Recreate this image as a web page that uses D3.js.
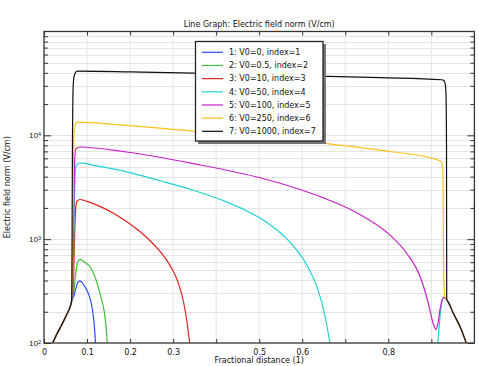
<!DOCTYPE html>
<html><head><meta charset="utf-8">
<script src="https://cdn.jsdelivr.net/npm/d3@7"></script>
<style>
body{margin:0;background:#fff;}
svg{display:block;font-family:"DejaVu Sans",sans-serif;}
</style></head><body>
<svg id="chart" width="479" height="366"></svg>
<script>
// ---- data ----
const titleText = "Line Graph: Electric field norm (V/cm)";
const xLabelText = "Fractional distance (1)";
const yLabelText = "Electric field norm (V/cm)";
const xTickValues = [0,0.1,0.2,0.3,0.4,0.5,0.6,0.7,0.8,0.9];
const xTickLabels = ["0","0.1","0.2","0.3","","0.5","0.6","","0.8",""];
const yMajorTicks = [100,1000,10000];
const yMajorExp = ["2","3","4"];
const yMinorTicks = [200,300,400,500,600,700,800,900,2000,3000,4000,5000,6000,7000,8000,9000,20000,30000,40000,50000,60000,70000,80000,90000];
const seriesNames = ["1: V0=0, index=1","2: V0=0.5, index=2","3: V0=10, index=3","4: V0=50, index=4","5: V0=100, index=5","6: V0=250, index=6","7: V0=1000, index=7"];
const seriesColors = ["#2a4cf5","#3cbf3c","#e01f1f","#1fd2d2","#c622c6","#ffbf1a","#111111"];

const leftTail = [[0.020,100],[0.030,122],[0.041,149],[0.052,185],[0.062,232],[0.064,250]];
const rightTail = [[0.9357,262],[0.940,245],[0.951,193],[0.9666,144],[0.981,100]];

const s1 = [[0.070,290],[0.075,345],[0.079,385],[0.0836,397],[0.092,365],[0.103,300],[0.110,240],[0.1146,182],[0.118,128],[0.1195,100]];
const s2 = [[0.070,330],[0.074,480],[0.078,600],[0.0836,638],[0.095,600],[0.107,542],[0.116,460],[0.124,370],[0.132,280],[0.138,223],[0.143,160],[0.147,100]];
const s3 = [[0.068,350],[0.070,700],[0.072,1400],[0.074,2050],[0.077,2330],[0.0836,2410],[0.100,2310],[0.130,2070],[0.160,1790],[0.190,1500],[0.220,1210],[0.246,970],[0.265,800],[0.285,628],[0.300,493],[0.312,379],[0.324,251],[0.332,162],[0.3385,100]];
const s4a = [[0.067,350],[0.069,900],[0.071,2500],[0.0725,4400],[0.075,5150],[0.0836,5420],[0.120,5100],[0.192,4440],[0.270,3650],[0.347,2960],[0.424,2285],[0.470,1880],[0.500,1615],[0.530,1330],[0.560,1045],[0.585,806],[0.610,570],[0.634,347],[0.649,214],[0.658,141],[0.6645,100]];
const s4b = [[0.9147,100],[0.918,140],[0.921,195],[0.924,241],[0.929,275]];
const s5 = [[0.066,350],[0.068,900],[0.070,3000],[0.0715,6000],[0.074,7400],[0.0836,7720],[0.192,6910],[0.347,5340],[0.502,3900],[0.571,3235],[0.649,2500],[0.7265,1800],[0.804,1093],[0.843,728],[0.874,434],[0.893,241],[0.904,155],[0.911,135],[0.916,160],[0.920,208],[0.925,260],[0.929,275]];
const s6 = [[0.065,350],[0.067,1500],[0.068,5000],[0.069,9000],[0.071,12000],[0.074,13100],[0.0797,13430],[0.192,12480],[0.347,10990],[0.500,9600],[0.657,8320],[0.812,6910],[0.905,5970],[0.920,5660],[0.9245,5400],[0.9265,4500],[0.9275,2500],[0.928,1000],[0.929,400],[0.931,290]];
const s7 = [[0.0648,400],[0.0655,2000],[0.0662,10000],[0.0672,25000],[0.069,35000],[0.072,39500],[0.077,41500],[0.200,40800],[0.347,39700],[0.550,38000],[0.781,35900],[0.924,34300],[0.928,34000],[0.932,31500],[0.934,25000],[0.9352,8000]];

// series segments (each is a list of polylines)
const seriesData = [
  [leftTail.concat(s1)],
  [leftTail.concat(s2)],
  [leftTail.concat(s3)],
  [leftTail.concat(s4a), s4b.concat(rightTail)],
  [leftTail.concat(s5, rightTail)],
  [leftTail.concat(s6, rightTail)],
  [leftTail.concat(s7, rightTail)]
];

// ---- layout ----
const svg = d3.select("#chart");
const L = 44, R = 474.4, T = 31.5, B = 343;
const x = d3.scaleLinear().domain([0,1]).range([L,R]);
const y = d3.scaleLog().domain([100,100000]).range([B,T]);

svg.append("defs").append("clipPath").attr("id","clip")
  .append("rect").attr("x",L).attr("y",T).attr("width",R-L).attr("height",B-T);

// grid
const grid = svg.append("g");
grid.selectAll(".gx").data(xTickValues.filter(v=>v>0)).join("line")
  .attr("x1",d=>x(d)).attr("x2",d=>x(d)).attr("y1",T).attr("y2",B)
  .attr("stroke","#e4e4e4").attr("stroke-width",1);
grid.selectAll(".gy").data(yMajorTicks.concat(yMinorTicks).filter(v=>v>100)).join("line")
  .attr("y1",d=>Math.round(y(d))+0.5).attr("y2",d=>Math.round(y(d))+0.5).attr("x1",L).attr("x2",R)
  .attr("stroke","#e4e4e4").attr("stroke-width",1);

// lines
const line = d3.line().x(d=>x(d[0])).y(d=>y(d[1])).curve(d3.curveMonotoneX);
const lines = svg.append("g").attr("clip-path","url(#clip)");
seriesData.forEach((segs,i)=>{
  segs.forEach(seg=>{
    lines.append("path").attr("d",line(seg)).attr("fill","none")
      .attr("stroke",seriesColors[i]).attr("stroke-width",1.2).attr("stroke-linejoin","round");
  });
});

// axes
const fs = 8;
const xb = svg.append("g").attr("transform",`translate(0,${B})`)
  .call(d3.axisBottom(x).tickValues(xTickValues).tickSizeInner(-4).tickSizeOuter(0).tickPadding(6)
    .tickFormat((d,i)=>xTickLabels[i]));
const xt = svg.append("g").attr("transform",`translate(0,${T})`)
  .call(d3.axisTop(x).tickValues(xTickValues).tickSizeInner(-4).tickSizeOuter(0).tickFormat(""));
const yl = svg.append("g").attr("transform",`translate(${L},0)`)
  .call(d3.axisLeft(y).tickValues(yMajorTicks).tickSizeInner(-7).tickSizeOuter(0).tickPadding(3).tickFormat(""));
const ylm = svg.append("g").attr("transform",`translate(${L},0)`)
  .call(d3.axisLeft(y).tickValues(yMinorTicks).tickSizeInner(-4).tickSizeOuter(0).tickFormat(""));
const yr = svg.append("g").attr("transform",`translate(${R},0)`)
  .call(d3.axisRight(y).tickValues(yMajorTicks).tickSizeInner(-7).tickSizeOuter(0).tickFormat(""));
const yrm = svg.append("g").attr("transform",`translate(${R},0)`)
  .call(d3.axisRight(y).tickValues(yMinorTicks).tickSizeInner(-4).tickSizeOuter(0).tickFormat(""));
[xb,xt,yl,ylm,yr,yrm].forEach(g=>{
  g.select(".domain").remove();
  g.selectAll("line").attr("stroke","#333");
  g.selectAll("text").attr("font-family","DejaVu Sans").attr("font-size",fs).attr("fill","#111");
});
// y major labels with superscripts
yl.selectAll(".tick").each(function(d,i){
  const t = d3.select(this).append("text").attr("x",-3).attr("dy","0.32em")
    .attr("text-anchor","end").attr("font-size",fs).attr("fill","#111");
  t.append("tspan").text("10");
  t.append("tspan").attr("dy","-0.45em").attr("font-size",5.5).text(yMajorExp[i]);
});

// frame
svg.append("rect").attr("x",L).attr("y",T).attr("width",R-L).attr("height",B-T)
  .attr("fill","none").attr("stroke","#333").attr("stroke-width",1.3);

// title and labels
svg.append("text").attr("x",(L+R)/2).attr("y",27).attr("text-anchor","middle")
  .attr("font-size",8).attr("fill","#111").text(titleText);
svg.append("text").attr("x",(L+R)/2).attr("y",363).attr("text-anchor","middle")
  .attr("font-size",8).attr("fill","#111").text(xLabelText);
svg.append("text").attr("transform",`translate(10,${(T+B)/2}) rotate(-90)`).attr("text-anchor","middle")
  .attr("font-size",8).attr("fill","#111").text(yLabelText);

// legend
const lg = svg.append("g");
lg.append("rect").attr("x",198).attr("y",44).attr("width",128).attr("height",100).attr("fill","#777");
lg.append("rect").attr("x",195.5).attr("y",41.5).attr("width",127.5).attr("height",99.5)
  .attr("fill","#fff").attr("stroke","#222").attr("stroke-width",1.3);
seriesNames.forEach((n,i)=>{
  const yy = 52.3 + i*13.17;
  lg.append("line").attr("x1",202).attr("x2",223).attr("y1",yy).attr("y2",yy)
    .attr("stroke",seriesColors[i]).attr("stroke-width",1.2);
  lg.append("text").attr("x",229).attr("y",yy).attr("dy","0.35em")
    .attr("font-size",8).attr("fill","#111").text(n);
});
</script>
</body></html>
